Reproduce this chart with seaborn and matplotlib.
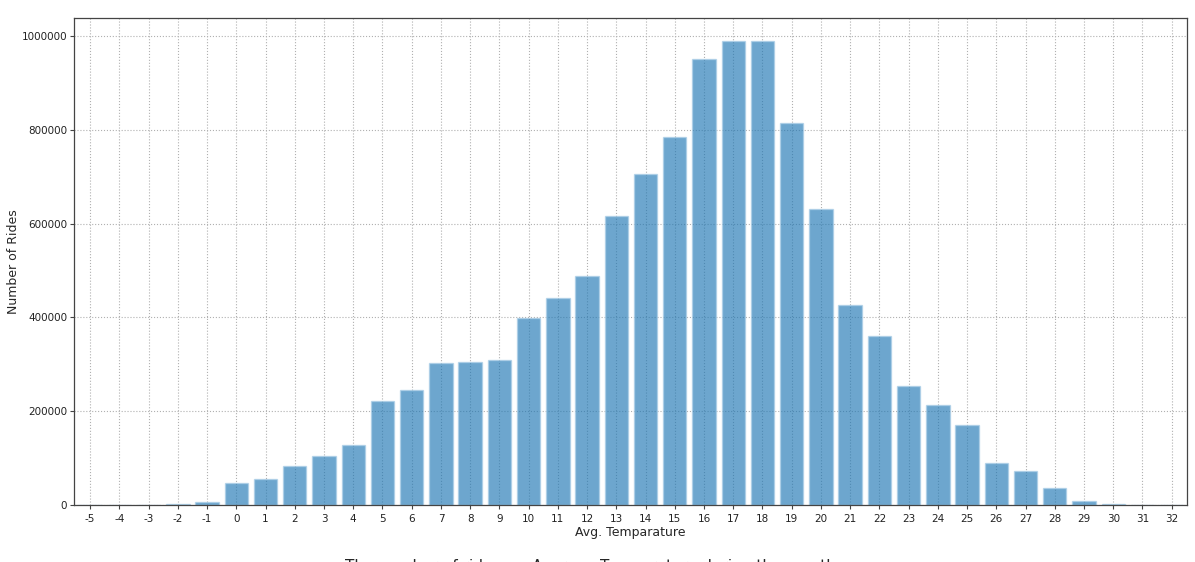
import matplotlib
matplotlib.use("Agg")
import matplotlib.pyplot as plt
import pandas as pd
import numpy as np
import seaborn as sns

temps = list(range(-5, 33))
rides = [300, 500, 1500, 3500, 6000, 47000, 55000, 83000, 104000, 128000,
         222000, 245000, 303000, 305000, 309000, 399000, 441000, 488000, 616000, 706000,
         785000, 951000, 989000, 990000, 814000, 631000, 426000, 360000, 254000, 213000,
         170000, 91000, 72000, 36000, 10000, 2000, 800, 1500]

df = pd.DataFrame({"temp": temps, "rides": rides})

sns.set_style("white")
fig = plt.figure(figsize=(11.95, 5.62), dpi=100)
ax = fig.add_axes([0.062, 0.101, 0.931, 0.867])

sns.barplot(x="temp", y="rides", data=df, order=temps, color="#1f77b4",
            alpha=0.65, edgecolor="#a9cde6", linewidth=1, width=0.8,
            saturation=1, ax=ax)

ax.set_axisbelow(True)
ax.grid(True, linestyle=":", color="#b0b0b0", linewidth=0.8)
ax.set_xlim(-0.55, len(temps) - 0.49)
ax.set_ylim(0, 1038000)
ax.set_yticks([0, 200000, 400000, 600000, 800000, 1000000])
ax.set_yticklabels(["0", "200000", "400000", "600000", "800000", "1000000"])
ax.tick_params(axis="both", labelsize=7.5, length=3, color="#444444",
               labelcolor="#222222", left=True, bottom=True)
ax.tick_params(axis="y", pad=2)
for s in ax.spines.values():
    s.set_color("#444444")
    s.set_linewidth(0.9)
ax.set_xlabel("Avg. Temparature", fontsize=9, labelpad=1)
ax.set_ylabel("Number of Rides", fontsize=9, labelpad=1)

fig.text(0.494, 0.006, "The number of rides vs. Average Temperature during the month",
         ha="center", va="top", fontsize=11)

fig.savefig("out.png", dpi=100)
